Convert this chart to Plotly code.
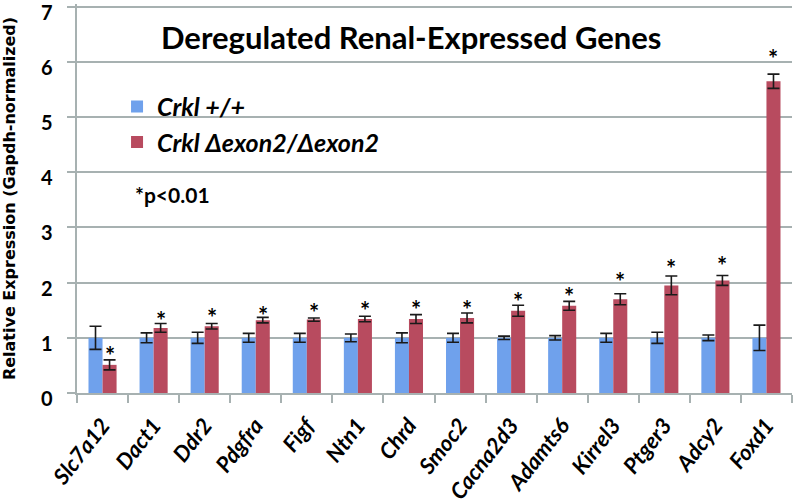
import plotly.graph_objects as go

genes = ["Slc7a12", "Dact1", "Ddr2", "Pdgfra", "Figf", "Ntn1", "Chrd", "Smoc2",
         "Cacna2d3", "Adamts6", "Kirrel3", "Ptger3", "Adcy2", "Foxd1"]
wt_vals = [1.0, 1.0, 1.0, 1.0, 1.0, 1.0, 1.0, 1.0, 1.0, 1.0, 1.0, 1.0, 1.0, 1.0]
wt_err = [0.21, 0.09, 0.10, 0.08, 0.08, 0.07, 0.09, 0.08, 0.03, 0.04, 0.08, 0.10, 0.05, 0.23]
ko_vals = [0.51, 1.18, 1.21, 1.32, 1.33, 1.34, 1.34, 1.36, 1.49, 1.58, 1.70, 1.95, 2.04, 5.65]
ko_err = [0.09, 0.08, 0.05, 0.05, 0.03, 0.05, 0.08, 0.09, 0.10, 0.08, 0.10, 0.17, 0.09, 0.13]
star_y = [0.79, 1.42, 1.48, 1.52, 1.57, 1.60, 1.63, 1.62, 1.77, 1.86, 2.13, 2.36, 2.42, 6.17]
y_ticks = [0, 1, 2, 3, 4, 5, 6, 7]

BLUE = "#6FA1EC"
RED = "#B84B5F"
GRID = "#A7B1B1"
FONT = "Lato"

fig = go.Figure()
fig.add_trace(go.Bar(
    x=genes, y=wt_vals, name="<b><i>Crkl +/+</i></b>",
    marker=dict(color=BLUE, line=dict(width=0)),
    error_y=dict(type="data", array=wt_err, color="#1a1a1a", thickness=1.6, width=6),
    legendgroup="a",
))
fig.add_trace(go.Bar(
    x=genes, y=ko_vals, name="<b><i>Crkl Δexon2/Δexon2</i></b>",
    marker=dict(color=RED, line=dict(width=0)),
    error_y=dict(type="data", array=ko_err, color="#1a1a1a", thickness=1.6, width=6),
    legendgroup="b",
))

annotations = []
for g, sy in zip(genes, star_y):
    annotations.append(dict(
        x=g, y=sy, xref="x", yref="y", text="<b>*</b>", showarrow=False,
        xshift=7, yshift=-6, yanchor="middle",
        font=dict(family=FONT, size=24, color="#000000"),
    ))
# y tick labels (sit slightly below their gridlines, as in the reference)
for v in y_ticks:
    annotations.append(dict(
        x=0, y=v, xref="paper", yref="y", text=f"<b>{v}</b>", showarrow=False,
        xanchor="right", yanchor="middle", xshift=-22, yshift=-5,
        font=dict(family=FONT, size=20, color="#000"),
    ))
annotations.append(dict(
    x=0.467, y=0.915, xref="paper", yref="paper", xanchor="center", yanchor="middle",
    text="<b>Deregulated Renal-Expressed Genes</b>", showarrow=False,
    font=dict(family=FONT, size=31, color="#000"),
))
annotations.append(dict(
    x=0.078, y=0.51, xref="paper", yref="paper", xanchor="left", yanchor="middle",
    text="<b>*p<0.01</b>", showarrow=False,
    font=dict(family=FONT, size=21, color="#000"),
))

fig.update_layout(
    width=793, height=504,
    margin=dict(l=77, r=1, t=4, b=111, autoexpand=False),
    paper_bgcolor="white", plot_bgcolor="white",
    barmode="group", bargap=0.45, bargroupgap=0,
    showlegend=True,
    legend=dict(
        x=0.056, y=0.795, xanchor="left", yanchor="top",
        font=dict(family=FONT, size=25, color="#000"),
        tracegroupgap=25, bgcolor="rgba(0,0,0,0)",
        traceorder="normal",
    ),
    annotations=annotations,
    xaxis=dict(
        automargin=False,
        showgrid=False, showline=True, linecolor=GRID, linewidth=1.5,
        ticks="outside", tickson="boundaries", ticklen=8, tickcolor=GRID, tickwidth=1.5,
        tickangle=-52, ticklabelstandoff=9,
        tickfont=dict(family=FONT, size=22, color="#000"),
        tickprefix="<b><i>", ticksuffix="</i></b>",
    ),
    yaxis=dict(
        automargin=False,
        range=[0, 7.05], tickvals=y_ticks, showticklabels=False,
        showgrid=True, gridcolor=GRID, gridwidth=1.5,
        showline=True, linecolor=GRID, linewidth=1.5,
        ticks="outside", ticklen=8, tickcolor=GRID, tickwidth=1.5,
        title=dict(text="<b>Relative Expression (Gapdh-normalized)</b>",
                   font=dict(family="DejaVu Sans", size=16, color="#000"), standoff=52),
        zeroline=False,
    ),
)

fig.write_html("out.html", config={"displayModeBar": False},
               post_script="document.body.style.margin='0px';")
